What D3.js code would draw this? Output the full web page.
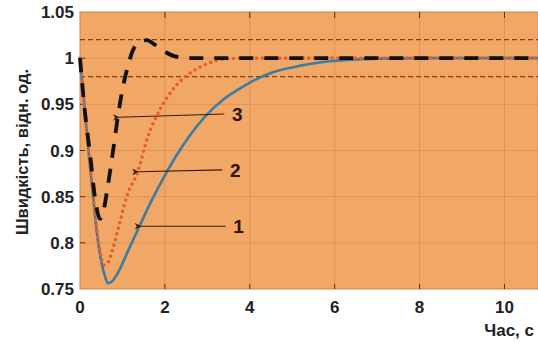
<!DOCTYPE html>
<html>
<head>
<meta charset="utf-8">
<script src="https://cdn.jsdelivr.net/npm/d3@7"></script>
<style>
  body { margin: 0; background: #fff; }
  svg text { font-family: "Liberation Sans", Arial, sans-serif; font-weight: bold; fill: #222; }
</style>
</head>
<body>
<svg id="chart"></svg>
<script>
var width = 538,
    height = 343,
    margin = {left: 80, right: 0, top: 12, bottom: 54};

// values
var xTicks = [0, 2, 4, 6, 8, 10],
    yTicks = [0.75, 0.8, 0.85, 0.9, 0.95, 1, 1.05],
    bandLines = [1.02, 0.98];

var t1 = [0, 0.1, 0.2, 0.3, 0.4, 0.5, 0.6, 0.66, 0.75, 0.9, 1.1, 1.4, 1.7, 2.0, 2.25, 2.6, 2.95, 3.4, 3.8, 4.1, 4.5, 5, 5.6, 6.3, 7, 8, 9, 10.8],
    v1 = [1, 0.95, 0.9, 0.855, 0.81, 0.78, 0.762, 0.756, 0.758, 0.768, 0.788, 0.818, 0.847, 0.873, 0.893, 0.917, 0.937, 0.956, 0.968, 0.976, 0.984, 0.99, 0.995, 0.998, 0.9995, 1, 1, 1];

var t2 = [0, 0.1, 0.2, 0.3, 0.4, 0.5, 0.56, 0.65, 0.75, 0.9, 1.1, 1.36, 1.6, 1.88, 2.24, 2.63, 3.0, 3.4, 4, 5, 10.8],
    v2 = [1, 0.95, 0.9, 0.855, 0.812, 0.785, 0.776, 0.778, 0.79, 0.815, 0.85, 0.877, 0.915, 0.944, 0.969, 0.985, 0.994, 0.999, 1, 1, 1];

var t3 = [0, 0.12, 0.24, 0.35, 0.47, 0.54, 0.65, 0.78, 0.89, 1.0, 1.12, 1.25, 1.4, 1.57, 1.75, 2.0, 2.24, 2.6, 3, 10.8],
    v3 = [1, 0.94, 0.895, 0.85, 0.826, 0.832, 0.86, 0.9, 0.936, 0.966, 0.99, 1.009, 1.017, 1.0195, 1.015, 1.007, 1.002, 1.0, 1, 1];

var arrows = [
  {label: "3", x1: 0.92, y1: 0.936, x2: 3.4, y2: 0.9395},
  {label: "2", x1: 1.37, y1: 0.877, x2: 3.35, y2: 0.879},
  {label: "1", x1: 1.43, y1: 0.818, x2: 3.43, y2: 0.818}
];

var svg = d3.select("#chart").attr("width", width).attr("height", height);

var x = d3.scaleLinear().domain([0, 10.79]).range([margin.left, width - margin.right]),
    y = d3.scaleLinear().domain([0.75, 1.05]).range([height - margin.bottom, margin.top]);

var line = d3.line()
    .x(d => x(d[0]))
    .y(d => y(d[1]))
    .curve(d3.curveMonotoneX);

// background
svg.append("rect")
    .attr("x", x(0)).attr("y", y(1.05))
    .attr("width", x.range()[1] - x(0))
    .attr("height", y(0.75) - y(1.05))
    .attr("fill", "#f1a766")
    .attr("stroke", "#c98650")
    .attr("stroke-width", 1);

// grid
svg.append("g").selectAll("line").data(xTicks.slice(1)).join("line")
    .attr("x1", d => x(d)).attr("x2", d => x(d))
    .attr("y1", y(1.05)).attr("y2", y(0.75))
    .attr("stroke", "#d98f55").attr("stroke-width", 0.8);
svg.append("g").selectAll("line").data(yTicks.slice(1, -1)).join("line")
    .attr("x1", x(0)).attr("x2", width)
    .attr("y1", d => y(d)).attr("y2", d => y(d))
    .attr("stroke", "#d98f55").attr("stroke-width", 0.8);

// ticks
svg.append("g").selectAll("line").data(xTicks.slice(1)).join("line")
    .attr("x1", d => x(d)).attr("x2", d => x(d))
    .attr("y1", y(0.75)).attr("y2", y(0.75) - 5)
    .attr("stroke", "#5a3010");
svg.append("g").selectAll("line").data(xTicks.slice(1)).join("line")
    .attr("x1", d => x(d)).attr("x2", d => x(d))
    .attr("y1", y(1.05)).attr("y2", y(1.05) + 6)
    .attr("stroke", "#5a3010");
svg.append("g").selectAll("line").data(yTicks.slice(1, -1)).join("line")
    .attr("x1", x(0)).attr("x2", x(0) + 5)
    .attr("y1", d => y(d)).attr("y2", d => y(d))
    .attr("stroke", "#5a3010");

// tolerance band
svg.append("g").selectAll("line").data(bandLines).join("line")
    .attr("x1", x(0)).attr("x2", width)
    .attr("y1", d => y(d)).attr("y2", d => y(d))
    .attr("stroke", "#8a3a14").attr("stroke-width", 1.2)
    .attr("stroke-dasharray", "5,3");

// curves
svg.append("path")
    .attr("d", line(d3.zip(t1, v1)))
    .attr("fill", "none").attr("stroke", "#3a7da4").attr("stroke-width", 2.6);

svg.append("path")
    .attr("d", line(d3.zip(t2, v2)))
    .attr("fill", "none").attr("stroke", "#e5602b").attr("stroke-width", 3.6)
    .attr("stroke-linecap", "round").attr("stroke-dasharray", "0,5.8");

svg.append("path")
    .attr("d", line(d3.zip(t3, v3)))
    .attr("fill", "none").attr("stroke", "#111").attr("stroke-width", 3.8)
    .attr("stroke-dasharray", "14,11");

// arrows
svg.append("defs").append("marker")
    .attr("id", "head")
    .attr("viewBox", "0 0 10 10")
    .attr("refX", 1).attr("refY", 5)
    .attr("markerWidth", 9).attr("markerHeight", 6)
    .attr("orient", "auto-start-reverse")
    .append("path").attr("d", "M0,5L10,0L7,5L10,10Z").attr("fill", "#3a1a08");

var ag = svg.append("g").selectAll("g").data(arrows).join("g");
ag.append("line")
    .attr("x1", d => x(d.x2)).attr("y1", d => y(d.y2))
    .attr("x2", d => x(d.x1)).attr("y2", d => y(d.y1))
    .attr("stroke", "#3a1a08").attr("stroke-width", 1.1)
    .attr("marker-end", "url(#head)");
ag.append("text")
    .attr("x", d => x(d.x2) + 13).attr("y", d => y(d.y2))
    .attr("dy", "0.36em").attr("text-anchor", "middle")
    .style("font-size", "19px").style("fill", "#2a1408")
    .text(d => d.label);

// tick labels
svg.append("g").selectAll("text").data(xTicks).join("text")
    .attr("x", d => x(d)).attr("y", y(0.75) + 18)
    .attr("dy", "0.36em").attr("text-anchor", "middle")
    .style("font-size", "17px")
    .text(d => d);
svg.append("g").selectAll("text").data(yTicks).join("text")
    .attr("x", x(0) - 6).attr("y", d => y(d))
    .attr("dy", "0.36em").attr("text-anchor", "end")
    .style("font-size", "17px")
    .text(d => d);

// axis titles
svg.append("text")
    .attr("transform", "translate(22,152) rotate(-90)")
    .attr("dy", "0.36em").attr("text-anchor", "middle")
    .style("font-size", "16.5px")
    .text("Швидкість, відн. од.");
svg.append("text")
    .attr("x", 534).attr("y", 336)
    .attr("text-anchor", "end")
    .style("font-size", "17px")
    .text("Час, с");
</script>
</body>
</html>
